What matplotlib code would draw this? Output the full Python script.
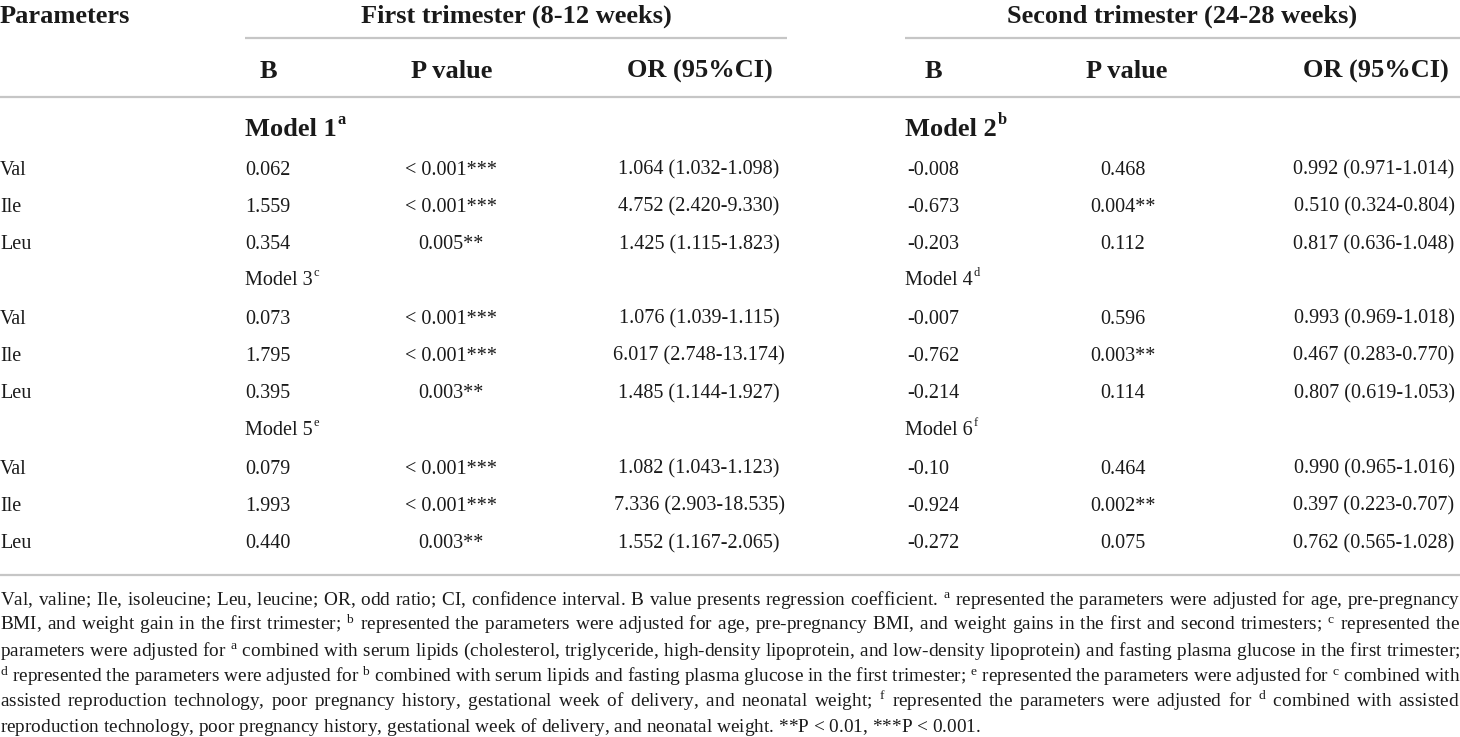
import matplotlib
matplotlib.use("Agg")
import matplotlib.pyplot as plt

# ---------------- data ----------------
params = ["Val", "Ile", "Leu"]
first_title = "First trimester (8-12 weeks)"
second_title = "Second trimester (24-28 weeks)"
col_heads = ["B", "P value", "OR (95%CI)"]

first_models = ["Model 1", "Model 3", "Model 5"]
first_sups = ["a", "c", "e"]
second_models = ["Model 2", "Model 4", "Model 6"]
second_sups = ["b", "d", "f"]

first_B = [["0.062", "1.559", "0.354"],
           ["0.073", "1.795", "0.395"],
           ["0.079", "1.993", "0.440"]]
first_P = [["< 0.001***", "< 0.001***", "0.005**"],
           ["< 0.001***", "< 0.001***", "0.003**"],
           ["< 0.001***", "< 0.001***", "0.003**"]]
first_OR = [["1.064 (1.032-1.098)", "4.752 (2.420-9.330)", "1.425 (1.115-1.823)"],
            ["1.076 (1.039-1.115)", "6.017 (2.748-13.174)", "1.485 (1.144-1.927)"],
            ["1.082 (1.043-1.123)", "7.336 (2.903-18.535)", "1.552 (1.167-2.065)"]]

second_B = [["-0.008", "-0.673", "-0.203"],
            ["-0.007", "-0.762", "-0.214"],
            ["-0.10", "-0.924", "-0.272"]]
second_P = [["0.468", "0.004**", "0.112"],
            ["0.596", "0.003**", "0.114"],
            ["0.464", "0.002**", "0.075"]]
second_OR = [["0.992 (0.971-1.014)", "0.510 (0.324-0.804)", "0.817 (0.636-1.048)"],
             ["0.993 (0.969-1.018)", "0.467 (0.283-0.770)", "0.807 (0.619-1.053)"],
             ["0.990 (0.965-1.016)", "0.397 (0.223-0.707)", "0.762 (0.565-1.028)"]]

footnote_lines = [
    "Val, valine; Ile, isoleucine; Leu, leucine; OR, odd ratio; CI, confidence interval. B value presents regression coefficient. ^a represented the parameters were adjusted for age, pre-pregnancy",
    "BMI, and weight gain in the first trimester; ^b represented the parameters were adjusted for age, pre-pregnancy BMI, and weight gains in the first and second trimesters; ^c represented the",
    "parameters were adjusted for ^a combined with serum lipids (cholesterol, triglyceride, high-density lipoprotein, and low-density lipoprotein) and fasting plasma glucose in the first trimester;",
    "^d represented the parameters were adjusted for ^b combined with serum lipids and fasting plasma glucose in the first trimester; ^e represented the parameters were adjusted for ^c combined with",
    "assisted reproduction technology, poor pregnancy history, gestational week of delivery, and neonatal weight; ^f represented the parameters were adjusted for ^d combined with assisted",
    "reproduction technology, poor pregnancy history, gestational week of delivery, and neonatal weight. **P < 0.01, ***P < 0.001.",
]

# ---------------- layout ----------------
W, H = 1460, 737
FONT = "Liberation Serif"
TXT = "#1a1a1a"
RULE = "#c6c6c6"

plt.rcParams["mathtext.fontset"] = "custom"
plt.rcParams["mathtext.rm"] = FONT
plt.rcParams["mathtext.it"] = FONT + ":italic"
plt.rcParams["mathtext.bf"] = FONT + ":bold"

fig = plt.figure(figsize=(W / 100, H / 100), dpi=100)
ax = fig.add_axes([0, 0, 1, 1])
ax.set_xlim(0, W)
ax.set_ylim(H, 0)
ax.axis("off")
renderer = fig.canvas.get_renderer()


def put(x, y, s, size, weight="normal", ha="left"):
    return ax.text(x, y, s, fontsize=size, fontweight=weight, family=FONT,
                   color=TXT, ha=ha, va="baseline")


def width(s, size, weight="normal"):
    t = ax.text(0, 0, s, fontsize=size, fontweight=weight, family=FONT)
    w = t.get_window_extent(renderer=renderer).width
    t.remove()
    return w


def put_sup(x, y, base, sup, size, weight="normal"):
    put(x, y, base, size, weight)
    w = width(base, size, weight)
    put(x + w + 1, y - size * 0.45 * 100 / 72, sup, size * 0.62, weight)


HEAD = 19
BODY = 14.5

# header row
put(0, 23, "Parameters", HEAD, "bold")
put(516, 23, first_title, HEAD, "bold", ha="center")
put(1182, 23, second_title, HEAD, "bold", ha="center")
ax.plot([245, 787], [38, 38], color=RULE, lw=1.6, solid_capstyle="butt")
ax.plot([905, W], [38, 38], color=RULE, lw=1.6, solid_capstyle="butt")

# column heads
col_x_first = [245, 451, 699]
col_x_second = [907, 1123, 1374]
head_x_first = [268, 452, 700]
head_x_second = [933, 1127, 1376]
for hx, h in zip(head_x_first, col_heads):
    put(hx, 78, h, HEAD, "bold", ha="center")
for hx, h in zip(head_x_second, col_heads):
    put(hx, 78, h, HEAD, "bold", ha="center")
ax.plot([0, W], [97, 97], color=RULE, lw=1.6, solid_capstyle="butt")

# body
model_base = [136, 285, 435]
row_off = [38.5, 75.5, 113]
for m in range(3):
    yb = model_base[m]
    if m == 0:
        put_sup(245, yb, first_models[m], first_sups[m], HEAD, "bold")
        put_sup(905, yb, second_models[m], second_sups[m], HEAD, "bold")
    else:
        put_sup(245, yb, first_models[m], first_sups[m], BODY)
        put_sup(905, yb, second_models[m], second_sups[m], BODY)
    for r in range(3):
        y = yb + row_off[r]
        put(0, y, params[r], BODY)
        put(col_x_first[0], y, first_B[m][r], BODY)
        put(col_x_first[1], y, first_P[m][r], BODY, ha="center")
        put(col_x_first[2], y, first_OR[m][r], BODY, ha="center")
        put(col_x_second[0], y, second_B[m][r], BODY)
        put(col_x_second[1], y, second_P[m][r], BODY, ha="center")
        put(col_x_second[2], y, second_OR[m][r], BODY, ha="center")

ax.plot([0, W], [575, 575], color=RULE, lw=1.6, solid_capstyle="butt")


# ---------------- footnote: justified, one text object per line ----------------
def build(line, gap_em):
    toks = line.split(" ")
    parts = []
    for i, t in enumerate(toks):
        if t.startswith("^"):
            parts.append(r"$^{\mathrm{%s}}$" % t[1:])
        else:
            parts.append(t.replace("$", r"\$"))
        if i < len(toks) - 1:
            parts.append(r"$\hspace{%.5f}$" % gap_em)
    return "".join(parts).replace("$$", ""), len(toks) - 1


FN = 12.6
space_px = width("a b", FN) - width("ab", FN)
need = []
for line in footnote_lines[:-1]:
    s, n = build(line, 0.0)
    need.append(width(s, FN) + n * space_px)
FN = FN * (W - 1) / max(need)
em_px = (width(r"m$\hspace{10}$m", FN) - width("mm", FN)) / 10.0
space_px = width("a b", FN) - width("ab", FN)

fn_base = [605, 630.5, 656, 681.5, 707, 732]
TARGET = W + 2
for i, line in enumerate(footnote_lines):
    s0, n = build(line, 0.0)
    w0 = width(s0, FN)
    if i < len(footnote_lines) - 1:
        g = (TARGET - w0) / n
    else:
        g = space_px
    s, _ = build(line, g / em_px)
    ax.text(0, fn_base[i], s, fontsize=FN, family=FONT, color=TXT,
            ha="left", va="baseline")

fig.savefig("out.png", dpi=100, facecolor="white")
